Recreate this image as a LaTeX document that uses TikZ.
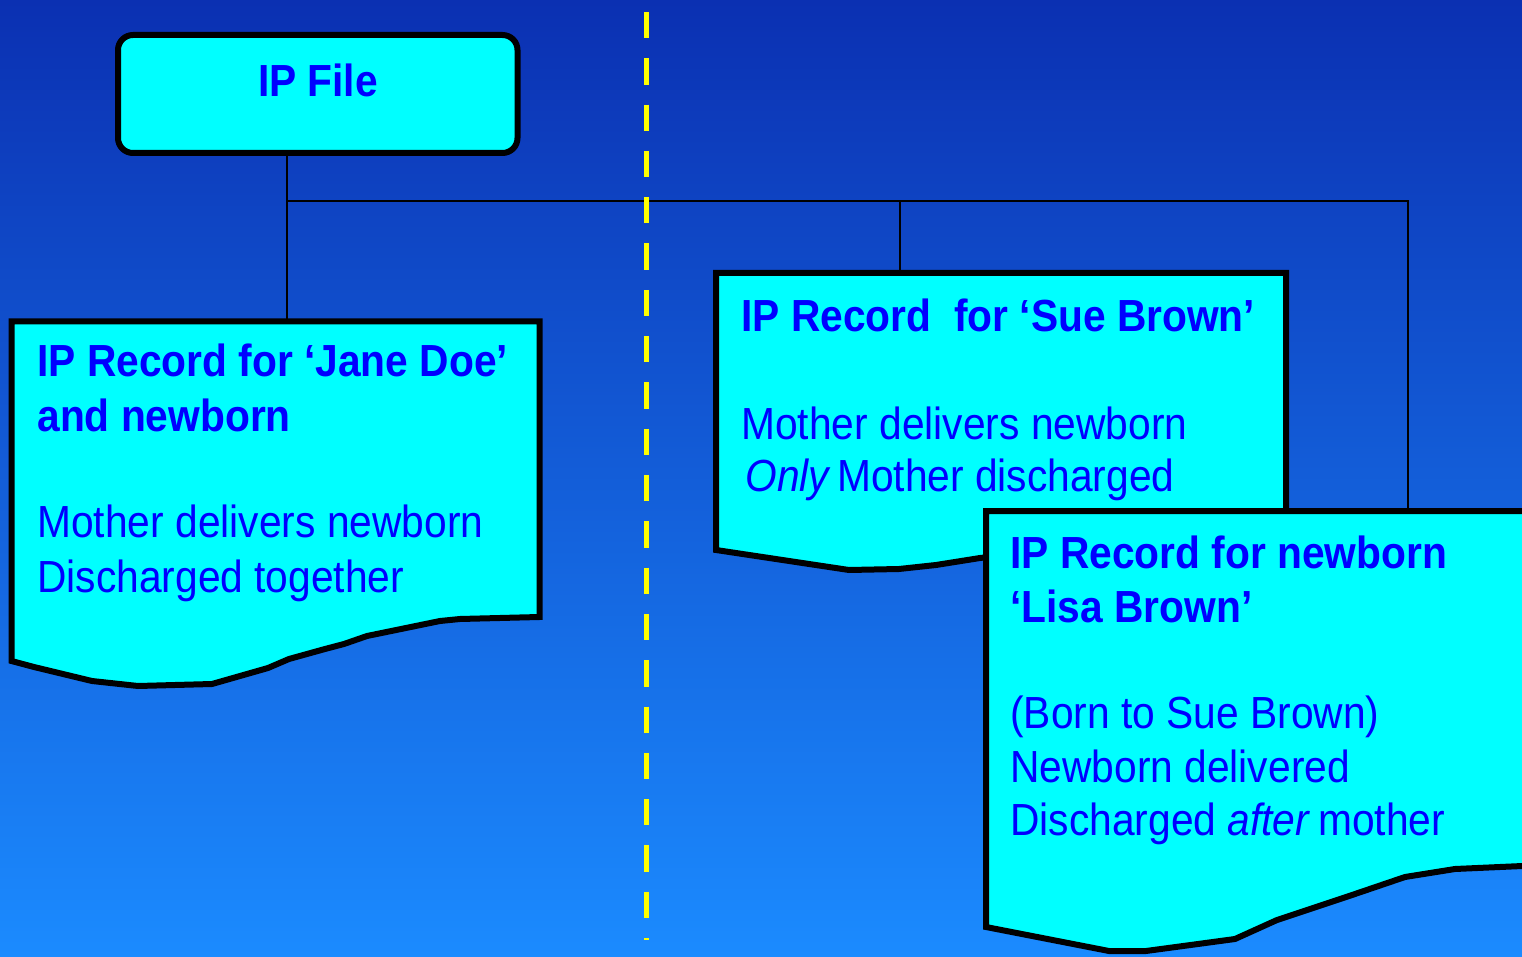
\documentclass[tikz,border=0pt]{standalone}
\usepackage{fontspec}
\setmainfont{Liberation Sans}[FakeStretch=0.905]
\definecolor{bgtop}{RGB}{11,48,178}
\definecolor{bgbot}{RGB}{27,139,255}
\definecolor{boxcyan}{RGB}{0,255,255}
\definecolor{txtblue}{RGB}{0,0,255}
\definecolor{divyellow}{RGB}{255,255,0}
\tikzset{
  filebox/.style={draw=black, fill=boxcyan, line width=3pt, rounded corners=7.5pt,
    inner sep=0pt, minimum width=199.75pt, minimum height=59pt},
  docbox/.style={draw=black, fill=boxcyan, line width=3pt, line join=miter},
  conn/.style={draw=black, line width=0.75pt},
  divider/.style={draw=divyellow, line width=2.5pt, dash pattern=on 13.15pt off 10pt},
  titletext/.style={font=\bfseries\fontsize{22.5}{27}\selectfont, text=txtblue, inner sep=0pt, anchor=base west},
  bodytext/.style={font=\fontsize{22.5}{27}\selectfont, text=txtblue, inner sep=0pt, anchor=base west},
}
\begin{document}
\begin{tikzpicture}[x=0.5pt, y=-0.5pt]
\useasboundingbox (0,0) rectangle (1522,957);
\clip (0,0) rectangle (1522,957);
\fill[top color=bgtop, bottom color=bgbot] (0,0) rectangle (1522,957);

% named points
\coordinate (janetop) at (287,321.5);
\coordinate (fork) at (287,201);
\coordinate (suetop) at (900,273);
\coordinate (lisatop) at (1408,511);

% IP File box
\node[filebox] (file) at (317.75,94) {};
\node[titletext, anchor=base] (filelabel) at (318,97) {IP File};

% connectors
\draw[conn] (file.south -| janetop) -- (janetop);
\draw[conn] (fork) -| (lisatop);
\draw[conn] (fork -| suetop) -- (suetop);

% Jane Doe record
\draw[docbox] (11.5,321.5) -- (539.5,321.5) -- (539.5,617) -- (460,619) -- (440,621) -- (367,636)
  -- (344,644) -- (325,649) -- (289,659) -- (268,668) -- (212,684) -- (138,686) -- (92,681)
  -- (34,667) -- (11.5,661) -- cycle;
\node[titletext] (j1) at (37,377) {IP Record for ‘Jane Doe’};
\node[titletext] (j2) at (37,431) {and newborn};
\node[bodytext] (j3) at (37,537) {Mother delivers newborn};
\node[bodytext] (j4) at (37,592) {Discharged together};

% Sue Brown record
\draw[docbox] (716,273) -- (1286,273) -- (1286,540) -- (1100,545) -- (980,558) -- (936,565)
  -- (899,569) -- (849,570) -- (716,550) -- cycle;
\node[titletext] (s1) at (741,332) {IP Record\ \ for ‘Sue Brown’};
\node[bodytext] (s2) at (741,439) {Mother delivers newborn};
\node[bodytext] (s3) at (745,491) {{\itshape Only}\hspace{0.18em}Mother discharged};

% Lisa Brown record
\draw[docbox] (986,511) -- (1545,511) -- (1545,865) -- (1455,869) -- (1405,877) -- (1355,894)
  -- (1277,920) -- (1235,939) -- (1198,944) -- (1146,951) -- (1109,951) -- (986,927) -- cycle;
\node[titletext] (l1) at (1010,568) {IP Record for newborn};
\node[titletext] (l2) at (1010,622) {‘Lisa Brown’};
\node[bodytext] (l3) at (1010,728) {(Born to Sue Brown)};
\node[bodytext] (l4) at (1010,782) {Newborn delivered};
\node[bodytext] (l5) at (1010,835) {Discharged {\itshape after}\hspace{0.2em}mother};

% yellow divider
\coordinate (divtop) at (646,12);
\coordinate (divbot) at (646,940);
\draw[divider] (divtop) -- (divbot);
\end{tikzpicture}
\end{document}
